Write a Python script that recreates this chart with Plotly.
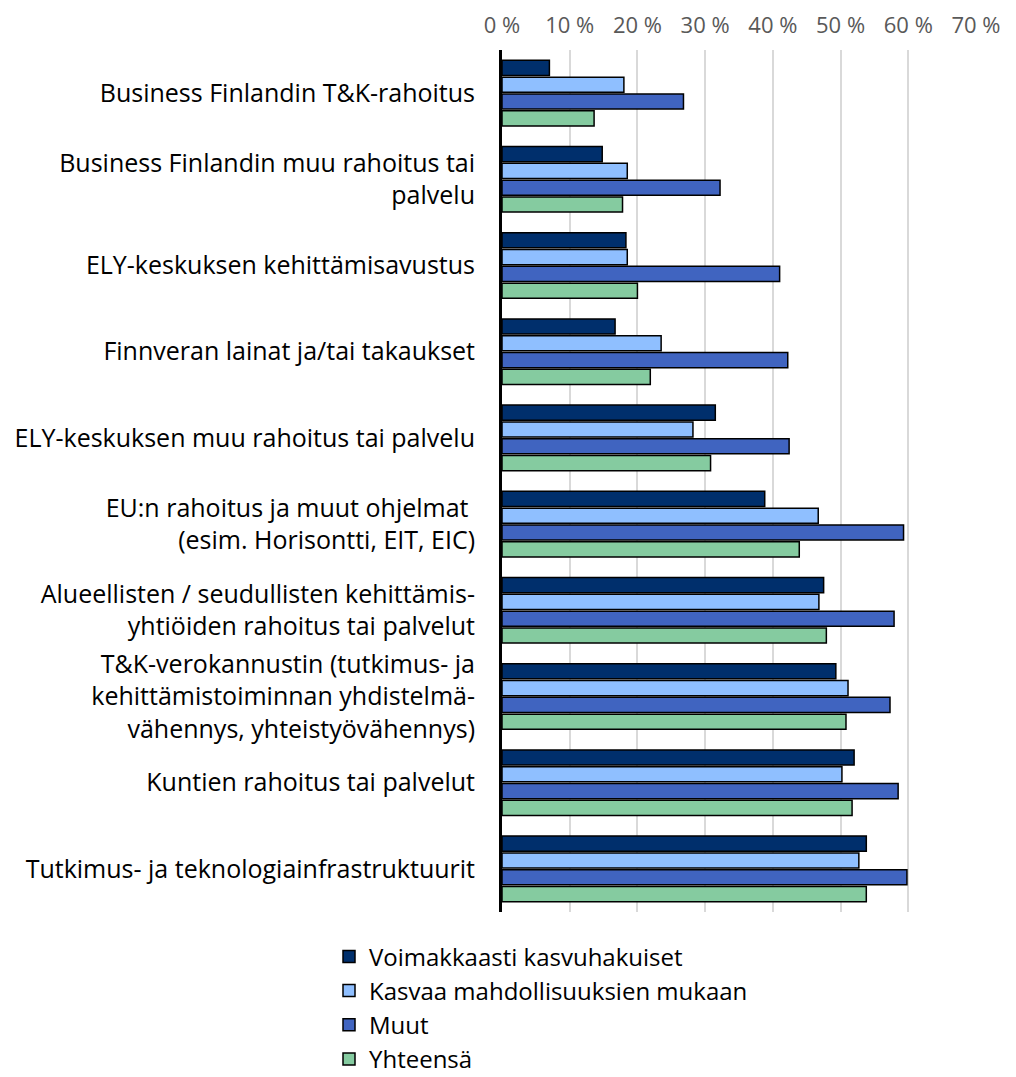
import plotly.graph_objects as go

categories = [
    "Business Finlandin T&K-rahoitus",
    "Business Finlandin muu rahoitus tai<br>palvelu",
    "ELY-keskuksen kehittämisavustus",
    "Finnveran lainat ja/tai takaukset",
    "ELY-keskuksen muu rahoitus tai palvelu",
    "EU:n rahoitus ja muut ohjelmat <br>(esim. Horisontti, EIT, EIC)",
    "Alueellisten / seudullisten kehittämis-<br>yhtiöiden rahoitus tai palvelut",
    "T&K-verokannustin (tutkimus- ja<br>kehittämistoiminnan yhdistelmä-<br>vähennys, yhteistyövähennys)",
    "Kuntien rahoitus tai palvelut",
    "Tutkimus- ja teknologiainfrastruktuurit",
]

voimakkaasti = [0.070, 0.148, 0.183, 0.167, 0.315, 0.388, 0.475, 0.493, 0.520, 0.538]
kasvaa = [0.180, 0.185, 0.185, 0.235, 0.282, 0.467, 0.468, 0.511, 0.502, 0.527]
muut = [0.268, 0.322, 0.410, 0.422, 0.424, 0.593, 0.579, 0.573, 0.585, 0.598]
yhteensa = [0.136, 0.178, 0.200, 0.219, 0.308, 0.439, 0.479, 0.508, 0.517, 0.538]

series_names = ["Voimakkaasti kasvuhakuiset", "Kasvaa mahdollisuuksien mukaan", "Muut", "Yhteensä"]
series_values = [voimakkaasti, kasvaa, muut, yhteensa]
series_colors = ["#002f6c", "#8fbfff", "#4064c0", "#85cba0"]

tick_vals = [0, 0.1, 0.2, 0.3, 0.4, 0.5, 0.6, 0.7]
tick_text = ["0 %", "10 %", "20 %", "30 %", "40 %", "50 %", "60 %", "70 %"]

FONT = "Open Sans"

fig = go.Figure()
for name, vals, col in zip(series_names, series_values, series_colors):
    fig.add_trace(go.Bar(
        y=categories, x=vals, name=name, orientation="h",
        marker=dict(color=col, line=dict(color="#000000", width=1.5)),
    ))

# page body has an 8px default margin, so the figure is offset by 8px
fig.update_layout(
    width=1000, height=1069,
    barmode="group", bargap=0.22, bargroupgap=0.1,
    margin=dict(l=494, r=32, t=42, b=165, autoexpand=False),
    plot_bgcolor="white", paper_bgcolor="white",
    font=dict(family=FONT, size=24, color="#000000"),
    showlegend=True,
    legend=dict(
        xref="container", yref="container", x=0.321, y=0.1335,
        xanchor="left", yanchor="top",
        font=dict(size=24, color="#000000"),
        traceorder="normal", tracegroupgap=0, itemwidth=30,
        bgcolor="rgba(0,0,0,0)",
    ),
    xaxis=dict(
        side="top", range=[0, 0.7], tickvals=tick_vals, ticktext=tick_text,
        showgrid=True, gridcolor="#d9d9d9", gridwidth=1.5,
        zeroline=False, showline=False, automargin=False, tickangle=0,
        tickfont=dict(size=22, color="#595959", family=FONT),
        ticks="", ticklabelstandoff=12,
    ),
    yaxis=dict(
        autorange="reversed", showline=True, linecolor="#000000", linewidth=3,
        ticks="", ticklabelstandoff=19, showgrid=False, automargin=False,
        tickfont=dict(size=25, color="#000000", family=FONT),
    ),
)

fig.write_html("out.html")
